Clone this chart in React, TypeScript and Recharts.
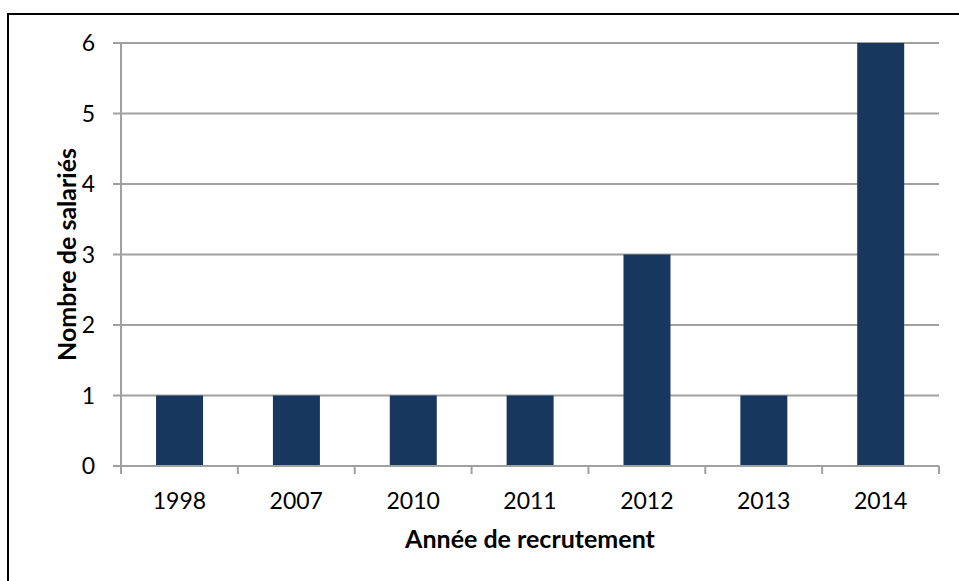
import { BarChart, Bar, XAxis, YAxis, CartesianGrid } from "recharts";

const YEARS = ["1998", "2007", "2010", "2011", "2012", "2013", "2014"];
const EMPLOYEES = [1, 1, 1, 1, 3, 1, 6];
const Y_TICKS = [0, 1, 2, 3, 4, 5, 6];

const data = YEARS.map((year, i) => ({ year, count: EMPLOYEES[i] }));

const GRID = "#A0A0A0";
const FONT = "Lato, 'Open Sans', sans-serif";
const TICK_SIZE = 8;
const TICK_MARGIN = 18;

function YearTick(props: any) {
  const { x, y, payload, width, visibleTicksCount, index } = props;
  const band = (width || 818) / (visibleTicksCount || YEARS.length);
  const top = y - TICK_SIZE - TICK_MARGIN;
  const left = x - band / 2;
  return (
    <g>
      <line x1={left} x2={left} y1={top} y2={top + TICK_SIZE} stroke={GRID} strokeWidth={2} />
      {index === YEARS.length - 1 && (
        <line x1={x + band / 2} x2={x + band / 2} y1={top} y2={top + TICK_SIZE} stroke={GRID} strokeWidth={2} />
      )}
      <text x={x} y={y} dy="0.72em" textAnchor="middle" fill="#000" fontSize={23} fontFamily={FONT}>
        {payload.value}
      </text>
    </g>
  );
}

export default function App() {
  return (
    <div
      style={{
        position: "fixed",
        left: 0,
        top: 0,
        width: 959,
        height: 581,
        overflow: "hidden",
        background: "#fff",
      }}
    >
      <div
        style={{
          position: "absolute",
          left: 7,
          top: 13,
          width: 1000,
          height: 1000,
          borderLeft: "2px solid #000",
          borderTop: "2px solid #000",
        }}
      />
      <div style={{ position: "absolute", left: 0, top: 0 }}>
        <BarChart
          width={959}
          height={581}
          data={data}
          margin={{ top: 43, right: 20, bottom: 0, left: 0 }}
          barCategoryGap="30%"
        >
          <CartesianGrid vertical={false} stroke={GRID} strokeWidth={2} />
          <XAxis
            dataKey="year"
            height={115}
            interval={0}
            tickLine={false}
            tickSize={TICK_SIZE}
            tickMargin={TICK_MARGIN}
            axisLine={{ stroke: GRID, strokeWidth: 2 }}
            tick={<YearTick />}
            label={{
              value: "Année de recrutement",
              position: "insideBottom",
              offset: 33,
              fill: "#000",
              fontSize: 25,
              fontWeight: 700,
              fontFamily: FONT,
            }}
          />
          <YAxis
            width={121}
            domain={[0, 6]}
            ticks={Y_TICKS}
            interval={0}
            tickSize={TICK_SIZE}
            tickMargin={TICK_MARGIN}
            tickLine={{ stroke: GRID, strokeWidth: 2 }}
            axisLine={{ stroke: GRID, strokeWidth: 2 }}
            tick={{ fill: "#000", fontSize: 23, fontFamily: FONT }}
            label={{
              value: "Nombre de salariés",
              angle: -90,
              position: "insideLeft",
              offset: 67,
              fill: "#000",
              fontSize: 25,
              fontWeight: 700,
              fontFamily: FONT,
              style: { textAnchor: "middle" },
            }}
          />
          <Bar dataKey="count" fill="#17375E" isAnimationActive={false} />
        </BarChart>
      </div>
    </div>
  );
}
